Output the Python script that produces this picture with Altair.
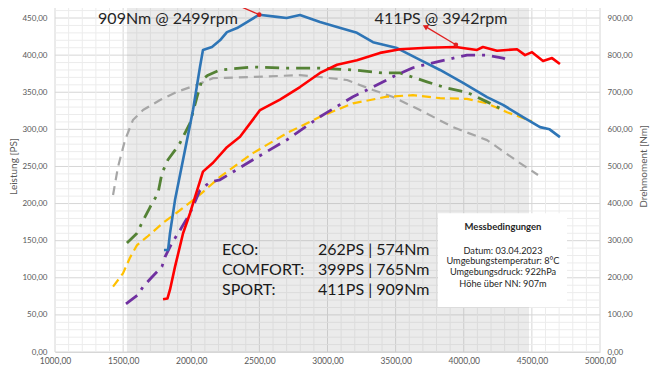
import altair as alt
import pandas as pd

FONT = "Lato"
TOP = 463.5  # PS at top edge of plot area

# ---------------- data ----------------
# SPORT torque [Nm] (blue)
sport_tq_rpm = [1800, 1830, 1844, 1881, 1954, 2013, 2064, 2086, 2152, 2211, 2262, 2336, 2409, 2499, 2629, 2700,
                2798, 2945, 3070, 3216, 3334, 3510, 3679, 3826, 3995, 4171, 4288, 4435, 4560, 4630, 4706]
sport_tq_nm = [275, 275, 320, 410, 544, 652, 768, 814, 822, 840, 862, 873, 889, 909, 903, 900,
               908, 889, 876, 860, 835, 819, 787, 760, 725, 687, 666, 633, 606, 600, 579]

# SPORT power [PS] (red)
sport_pw_rpm = [1793, 1825, 1844, 1881, 1940, 1991, 2028, 2086, 2160, 2262, 2358, 2505, 2651, 2798, 2945, 3070,
                3216, 3385, 3532, 3730, 3942, 4097, 4141, 4244, 4391, 4450, 4501, 4582, 4648, 4706]
sport_pw_ps = [71, 72, 84, 115, 160, 187, 209, 243, 255, 276, 290, 326, 340, 357, 376, 387,
               393, 403, 408, 410, 411, 407, 411, 406, 408, 400, 404, 392, 396, 388]

# COMFORT torque [Nm] (green)
comf_tq_rpm = [1528, 1602, 1638, 1697, 1756, 1785, 1829, 1881, 1917, 1991, 2042, 2079, 2123, 2211, 2453, 2703,
               2945, 3187, 3407, 3532, 3730, 3877, 4024, 4171, 4290]
comf_tq_nm = [294, 320, 348, 390, 428, 482, 518, 544, 563, 617, 687, 733, 746, 760, 768, 765,
              765, 760, 752, 752, 728, 711, 700, 674, 652]

# COMFORT power [PS] (purple)
comf_pw_rpm = [1521, 1609, 1646, 1712, 1785, 1807, 1859, 1917, 1991, 2064, 2138, 2211, 2453, 2703, 2945, 3187,
               3334, 3481, 3627, 3804, 4024, 4171, 4288, 4303]
comf_pw_ps = [65, 77, 88, 101, 115, 128, 147, 164, 187, 218, 229, 232, 259, 286, 317, 344,
              357, 371, 383, 391, 400, 400, 396, 395]

# ECO power [PS] (yellow)
eco_pw_rpm = [1426, 1499, 1550, 1602, 1675, 1793, 1917, 2064, 2211, 2453, 2703, 2945, 3187, 3436, 3627, 3826,
              4024, 4171, 4318, 4500]
eco_pw_ps = [88, 106, 127, 144, 155, 174, 191, 212, 236, 268, 295, 317, 335, 344, 346, 342,
             341, 335, 323, 311]

# ECO torque [Nm] (grey)
eco_tq_rpm = [1426, 1462, 1514, 1572, 1646, 1771, 1895, 2042, 2160, 2431, 2798, 2945, 3143, 3334, 3481, 3679,
              3921, 4171, 4413, 4545]
eco_tq_nm = [423, 498, 571, 625, 652, 679, 701, 720, 738, 741, 746, 741, 733, 706, 687, 652,
             606, 571, 509, 477]

x_ticks = [1000, 1500, 2000, 2500, 3000, 3500, 4000, 4500, 5000]
ps_ticks = [0, 50, 100, 150, 200, 250, 300, 350, 400, 450]
nm_ticks = [0, 100, 200, 300, 400, 500, 600, 700, 800, 900]

summary_modes = ["ECO:", "COMFORT:", "SPORT:"]
summary_values = ["262PS | 574Nm", "399PS | 765Nm", "411PS | 909Nm"]
summary_y = [137.4, 110.5, 83.5]

cond_lines = ["Datum:  03.04.2023", "Umgebungstemperatur: 8°C", "Umgebungsdruck:  922hPa", "Höhe über NN: 907m"]
cond_y = [136, 122.6, 107.8, 91.6]

# ---------------- scales / axes ----------------
XS = alt.Scale(domain=[1000, 5000], nice=False, zero=False)
YPS = alt.Scale(domain=[0, TOP], nice=False)
YNM = alt.Scale(domain=[0, 2 * TOP], nice=False)
LBL = "replace(format(datum.value, '.2f'), '.', ',')"

x_axis = alt.Axis(values=x_ticks, labelExpr=LBL, grid=False, ticks=False, domain=True,
                  domainColor="#d9d9d9", labelFontSize=8.5, labelColor="#595959", labelFont=FONT,
                  labelPadding=4, labelFlush=False, labelOverlap=False, title=None)


def X(field="rpm"):
    return alt.X(f"{field}:Q", scale=XS, axis=x_axis)


def Yps(field="y"):
    return alt.Y(f"{field}:Q", scale=YPS, axis=None)


def Ynm(field="y"):
    return alt.Y(f"{field}:Q", scale=YNM, axis=None)


# ---------------- grid ----------------
vminor = pd.DataFrame({"rpm": [v for v in range(1000, 5001, 100) if v % 500]})
vmajor = pd.DataFrame({"rpm": x_ticks})
hminor = pd.DataFrame({"y": [v for v in range(0, 461, 10) if v % 50]})
hmajor = pd.DataFrame({"y": ps_ticks})

g_vminor = alt.Chart(vminor).mark_rule(color="#ececec", strokeWidth=1).encode(x=X())
g_vmajor = alt.Chart(vmajor).mark_rule(color="#d6d6d6", strokeWidth=1).encode(x=X())
g_hminor = alt.Chart(hminor).mark_rule(color="#ececec", strokeWidth=1).encode(y=Yps())
g_hmajor = alt.Chart(hmajor).mark_rule(color="#d6d6d6", strokeWidth=1).encode(
    y=alt.Y("y:Q", scale=YPS,
            axis=alt.Axis(orient="left", values=ps_ticks, labelExpr=LBL, grid=False, ticks=False,
                          domain=False, labelFontSize=8, labelColor="#595959", labelFont=FONT,
                          labelPadding=8, labelFlush=False, labelOverlap=False,
                          title="Leistung [PS]", titleFont=FONT, titleFontSize=10,
                          titleFontWeight="normal", titleColor="#595959",
                          titleAngle=270, titleX=-37, titleY=158, titleBaseline="bottom",
                          titleAlign="center")))

# right axis carrier
r_axis = alt.Chart(pd.DataFrame({"y": nm_ticks})).mark_rule(opacity=0).encode(
    y=alt.Y("y:Q", scale=YNM,
            axis=alt.Axis(orient="right", values=nm_ticks, labelExpr=LBL, grid=False, ticks=False,
                          domain=False, labelFontSize=8, labelColor="#595959", labelFont=FONT,
                          labelPadding=7, labelFlush=False, labelOverlap=False,
                          title="Drehmoment [Nm]", titleFont=FONT, titleFontSize=10,
                          titleFontWeight="normal", titleColor="#595959",
                          titleAngle=270, titleX=38, titleY=158, titleBaseline="top",
                          titleAlign="center")))

# ---------------- background band ----------------
band = alt.Chart(pd.DataFrame({"rpm": [1528], "rpm2": [4479], "y": [0], "y2": [TOP]})).mark_rect(
    color="#a6a6a6", opacity=0.22).encode(x=X(), x2="rpm2:Q", y=Yps(), y2="y2:Q")


# ---------------- curves ----------------
def curve(rpm, vals, unit, color, dash=None, width=2.5):
    df = pd.DataFrame({"rpm": rpm, "y": vals})
    kw = dict(color=color, strokeWidth=width, strokeCap="butt", strokeJoin="round", clip=True)
    if dash:
        kw["strokeDash"] = dash
    return alt.Chart(df).mark_line(**kw).encode(x=X(), y=(Ynm() if unit == "nm" else Yps()),
                                                  order="rpm:Q")


c_eco_tq = curve(eco_tq_rpm, eco_tq_nm, "nm", "#a6a6a6", [9, 6], 2.2)
c_eco_pw = curve(eco_pw_rpm, eco_pw_ps, "ps", "#ffc000", [9, 5], 2.2)
c_comf_tq = curve(comf_tq_rpm, comf_tq_nm, "nm", "#548235", [14, 7, 3, 7], 2.8)
c_comf_pw = curve(comf_pw_rpm, comf_pw_ps, "ps", "#7030a0", [14, 7, 3, 7], 2.8)
c_sport_tq = curve(sport_tq_rpm, sport_tq_nm, "nm", "#2e75b6", None, 2.6)
c_sport_pw = curve(sport_pw_rpm, sport_pw_ps, "ps", "#ff0000", None, 2.6)

# ---------------- annotations ----------------
ann_pw = pd.DataFrame({"rpm": [3942], "y": [414], "rpm2": [3723], "y2": [438]})
ann_tq = pd.DataFrame({"rpm": [2499], "y": [909], "rpm2": [2336], "y2": [935]})

arr_pw = alt.Chart(ann_pw).mark_rule(color="#e02020", strokeWidth=1.3).encode(
    x=X(), y=Yps(), x2="rpm2:Q", y2="y2:Q")
head_pw = alt.Chart(ann_pw).mark_point(shape="triangle", filled=True, color="#e02020", size=40,
                                       angle=299, opacity=1).encode(
    x=alt.X("rpm2:Q", scale=XS, axis=x_axis), y=alt.Y("y2:Q", scale=YPS, axis=None))
dot_pw = alt.Chart(ann_pw).mark_circle(color="#e02020", size=22, opacity=1).encode(x=X(), y=Yps())

arr_tq = alt.Chart(ann_tq).mark_rule(color="#e02020", strokeWidth=1.3).encode(
    x=X(), y=Ynm(), x2="rpm2:Q", y2="y2:Q")
dot_tq = alt.Chart(ann_tq).mark_circle(color="#e02020", size=22, opacity=1).encode(x=X(), y=Ynm())

t_pw = alt.Chart(pd.DataFrame({"rpm": [3833], "y": [449], "t": ["411PS @ 3942rpm"]})).mark_text(
    font=FONT, fontSize=16, color="#262626", baseline="middle", align="center").encode(
    x=X(), y=Yps(), text="t:N")
t_tq = alt.Chart(pd.DataFrame({"rpm": [1829], "y": [449], "t": ["909Nm @ 2499rpm"]})).mark_text(
    font=FONT, fontSize=16, color="#262626", baseline="middle", align="center").encode(
    x=X(), y=Yps(), text="t:N")

# summary block
summ = pd.DataFrame({"mode": summary_modes, "val": summary_values, "y": summary_y,
                     "rpm": [2226] * 3, "rpmv": [2930] * 3})
s_modes = alt.Chart(summ).mark_text(font=FONT, fontSize=16, color="#1a1a1a", align="left",
                                    baseline="middle").encode(x=X(), y=Yps(), text="mode:N")
s_vals = alt.Chart(summ).mark_text(font=FONT, fontSize=16, color="#1a1a1a", align="left",
                                   baseline="middle").encode(x=X("rpmv"), y=Yps(), text="val:N")

# Messbedingungen box
box = alt.Chart(pd.DataFrame({"rpm": [3811], "rpm2": [4758], "y": [60.6], "y2": [187]})).mark_rect(
    color="white").encode(x=X(), x2="rpm2:Q", y=Yps(), y2="y2:Q")
box_title = alt.Chart(pd.DataFrame({"rpm": [4288], "y": [168.4], "t": ["Messbedingungen"]})).mark_text(
    font=FONT, fontSize=9.5, fontWeight="bold", color="#262626", baseline="middle", align="center").encode(
    x=X(), y=Yps(), text="t:N")
box_lines = alt.Chart(pd.DataFrame({"rpm": [4288] * 4, "y": cond_y, "t": cond_lines})).mark_text(
    font=FONT, fontSize=9.2, color="#262626", baseline="middle", align="center").encode(
    x=X(), y=Yps(), text="t:N")

chart = alt.layer(
    g_hmajor, r_axis, g_vminor, g_vmajor, g_hminor, band,
    c_eco_tq, c_eco_pw, c_comf_tq, c_comf_pw, c_sport_tq, c_sport_pw,
    arr_pw, head_pw, dot_pw, arr_tq, dot_tq, t_pw, t_tq,
    s_modes, s_vals, box, box_title, box_lines,
).resolve_scale(y="independent").properties(
    width=545, height=344,
    autosize=alt.AutoSizeParams(type="none"),
    padding={"left": 47, "top": 0, "right": 52, "bottom": 14},
    background="white",
).configure_view(stroke=None)

chart.save("out.html", embed_options={"renderer": "svg", "actions": False})
